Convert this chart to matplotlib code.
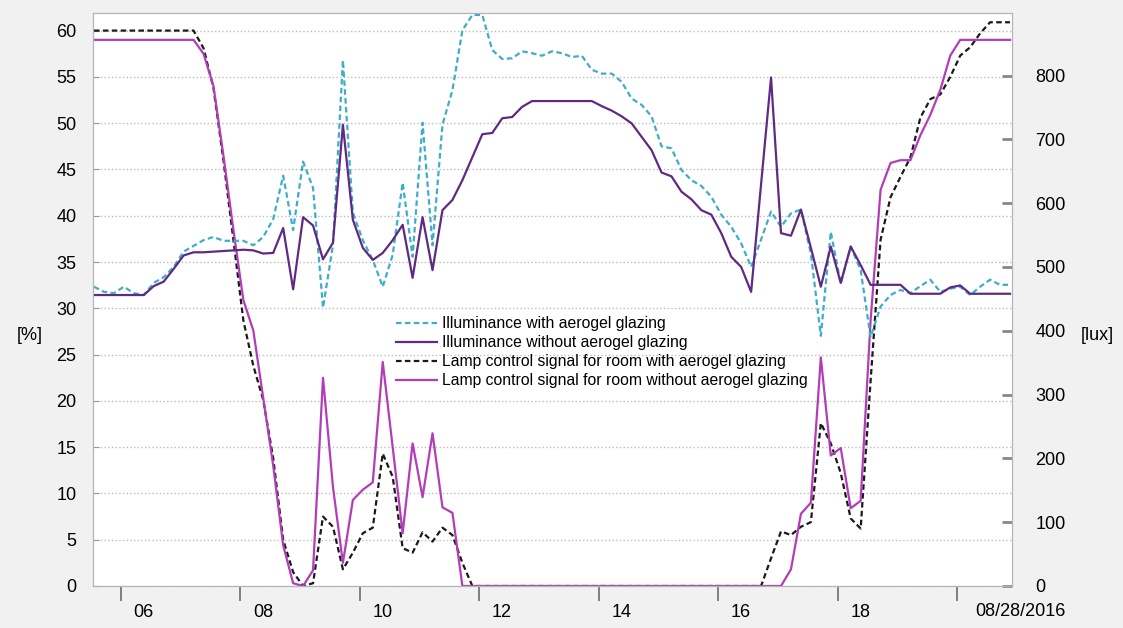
import numpy as np
import pandas as pd
import matplotlib
matplotlib.use("Agg")
import matplotlib.pyplot as plt
from matplotlib.transforms import ScaledTranslation

plt.rcParams['font.family'] = ['Liberation Sans', 'DejaVu Sans']

# samples every 10 minutes on 28 Aug 2016
times = pd.date_range("2016-08-28 05:33", periods=93, freq="10min")

# illuminance [lux], right axis
illum_aerogel = [
    469, 461, 459, 469, 459, 456, 475, 484, 500, 524,
    533, 542, 547, 541, 541, 541, 534, 547, 575, 643,
    558, 665, 624, 436, 534, 824, 585, 542, 511, 469,
    519, 632, 516, 726, 534, 723, 777, 871, 895, 895,
    840, 826, 827, 838, 835, 831, 838, 835, 829, 831,
    809, 803, 803, 790, 764, 754, 736, 689, 686, 652,
    636, 627, 610, 582, 563, 537, 500, 543, 587, 563,
    584, 590, 521, 392, 555, 474, 532, 495, 390, 438,
    456, 464, 459, 470, 480, 461, 466, 469, 456, 469,
    480, 472, 472,
]
illum_no_aerogel = [
    456, 456, 456, 456, 456, 456, 470, 477, 497, 518,
    523, 523, 524, 525, 526, 527, 526, 521, 522, 561,
    465, 578, 565, 512, 538, 723, 574, 530, 511, 522,
    542, 566, 483, 578, 495, 589, 605, 636, 672, 708,
    710, 733, 735, 751, 760, 760, 760, 760, 760, 760,
    760, 752, 745, 736, 725, 704, 683, 648, 642, 618,
    606, 589, 582, 553, 516, 500, 461, 630, 797, 553,
    549, 590, 530, 469, 532, 475, 532, 503, 472, 472,
    472, 472, 458, 458, 458, 458, 468, 471, 458, 458,
    458, 458, 458,
]

# lamp control signal [%], left axis
lamp_aerogel = [
    60.0, 60.0, 60.0, 60.0, 60.0, 60.0, 60.0, 60.0, 60.0, 60.0,
    60.0, 58.1, 53.8, 46.0, 37.4, 28.7, 23.8, 20.1, 13.8, 5.0,
    1.5, 0.0, 0.3, 7.5, 6.4, 1.8, 3.6, 5.7, 6.3, 14.3,
    11.8, 4.1, 3.6, 5.8, 4.8, 6.3, 5.5, 2.5, 0.0, 0.0,
    0.0, 0.0, 0.0, 0.0, 0.0, 0.0, 0.0, 0.0, 0.0, 0.0,
    0.0, 0.0, 0.0, 0.0, 0.0, 0.0, 0.0, 0.0, 0.0, 0.0,
    0.0, 0.0, 0.0, 0.0, 0.0, 0.0, 0.0, 0.0, 3.0, 5.9,
    5.5, 6.4, 6.9, 17.6, 15.4, 12.2, 7.3, 6.2, 22.2, 37.4,
    42.0, 44.2, 46.3, 50.6, 52.6, 53.1, 55.0, 57.3, 58.2, 59.7,
    60.9, 60.9, 60.9,
]
lamp_no_aerogel = [
    59.0, 59.0, 59.0, 59.0, 59.0, 59.0, 59.0, 59.0, 59.0, 59.0,
    59.0, 57.5, 54.0, 46.5, 38.5, 30.9, 27.6, 20.3, 13.0, 4.4,
    0.3, 0.0, 1.7, 22.5, 10.7, 2.5, 9.3, 10.4, 11.2, 24.2,
    15.0, 5.7, 15.4, 9.6, 16.5, 8.5, 7.9, 0.0, 0.0, 0.0,
    0.0, 0.0, 0.0, 0.0, 0.0, 0.0, 0.0, 0.0, 0.0, 0.0,
    0.0, 0.0, 0.0, 0.0, 0.0, 0.0, 0.0, 0.0, 0.0, 0.0,
    0.0, 0.0, 0.0, 0.0, 0.0, 0.0, 0.0, 0.0, 0.0, 0.0,
    1.8, 7.8, 9.0, 24.7, 14.1, 14.9, 8.4, 9.2, 28.7, 42.8,
    45.7, 46.0, 46.0, 48.7, 50.9, 53.6, 57.3, 59.0, 59.0, 59.0,
    59.0, 59.0, 59.0,
]

tick_times = pd.date_range("2016-08-28 06:00", "2016-08-28 20:00", freq="2h")
tick_labels = ["06", "08", "10", "12", "14", "16", "18", ""]
pct_ticks = list(range(0, 61, 5))
lux_ticks = list(range(0, 801, 100))
date_label = "08/28/2016"

series_labels = [
    "Illuminance with aerogel glazing",
    "Illuminance without aerogel glazing",
    "Lamp control signal for room with aerogel glazing",
    "Lamp control signal for room without aerogel glazing",
]

W, H = 1123, 628
fig = plt.figure(figsize=(W / 100, H / 100), dpi=100, facecolor="#f1f1f1")
ax = fig.add_axes([93 / W, 1 - 586 / H, (1012 - 93) / W, (586 - 13) / H])
ax.set_facecolor("white")
ax2 = ax.twinx()

l3, = ax.plot(times, lamp_aerogel, color="#1a1a1a", lw=1.6, dashes=(2.5, 1.5))
l4, = ax.plot(times, lamp_no_aerogel, color="#b33db8", lw=1.6)
l1, = ax2.plot(times, illum_aerogel, color="#3eaec8", lw=1.6, dashes=(2.5, 1.5))
l2, = ax2.plot(times, illum_no_aerogel, color="#5e2a83", lw=1.6)

ax.set_xlim(pd.Timestamp("2016-08-28 05:32"), pd.Timestamp("2016-08-28 20:55"))
ax.set_ylim(0, 61.9)
ax2.set_ylim(0, 898)

ax.set_yticks(pct_ticks)
ax2.set_yticks(lux_ticks)
ax.yaxis.grid(True, linestyle=":", color="#bdbdbd", lw=1)
ax.set_axisbelow(True)

for a in (ax, ax2):
    for s in a.spines.values():
        s.set_color("#b5b5b5")

ax.tick_params(axis="y", direction="in", length=4, color="#999999", labelsize=13, pad=12)
ax2.tick_params(axis="y", direction="in", length=7, width=2, color="#888888", labelsize=13, pad=17)

ax.set_xticks(tick_times, labels=tick_labels)
ax.tick_params(axis="x", direction="out", length=11, width=1.3, color="#777777", labelsize=13, pad=2)
offset = ScaledTranslation(9 / 72, 0, fig.dpi_scale_trans)
for lbl in ax.get_xticklabels():
    lbl.set_horizontalalignment("left")
    lbl.set_transform(lbl.get_transform() + offset)

fig.text(30 / W, 1 - 335 / H, "[%]", ha="center", va="center", fontsize=13)
fig.text(1097 / W, 1 - 335 / H, "[lux]", ha="center", va="center", fontsize=13)
fig.text(1066 / W, 1 - 611 / H, date_label, ha="right", va="center", fontsize=13)

ax2.legend([l1, l2, l3, l4], series_labels, loc="upper left",
           bbox_to_anchor=(396 / W, 1 - 316 / H), bbox_transform=fig.transFigure,
           frameon=False, fontsize=11.3, handlelength=2.6, handletextpad=0.3,
           labelspacing=0.26, borderpad=0, borderaxespad=0)

fig.savefig("out.png", dpi=100, facecolor=fig.get_facecolor())
